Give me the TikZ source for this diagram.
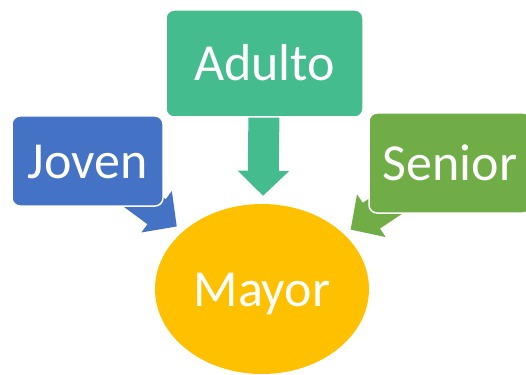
\documentclass[tikz,border=0pt]{standalone}
\usepackage{fontspec}
\setmainfont{Carlito}
\usetikzlibrary{arrows.meta}
\usetikzlibrary{shapes.geometric}
\usetikzlibrary{backgrounds}
\definecolor{jovencol}{HTML}{4472C4}
\definecolor{adultocol}{HTML}{44BC8D}
\definecolor{seniorcol}{HTML}{70AD47}
\definecolor{mayorcol}{HTML}{FFC000}

\begin{document}
\begin{tikzpicture}[x=1pt,y=-1pt,
  label text/.style={text=white,font=\fontsize{52}{60}\selectfont,text height=34pt,text depth=0pt},
  box/.style={rectangle,rounded corners=8pt,draw=white,line width=1.5pt,inner sep=0pt,label text},
  flow/.style={line width=31pt,-{Triangle[length=25pt,width=50pt]},shorten >=8pt}]

  \useasboundingbox (0,0) rectangle (526,374);

  % Stages
  \node[box,fill=adultocol,minimum width=197pt,minimum height=107pt] (adulto) at (264.5,63.5) {Adulto};
  \node[box,fill=jovencol,minimum width=151pt,minimum height=90pt] (joven) at (87.5,161) {Joven};
  \node[box,fill=seniorcol,minimum width=162pt,minimum height=100pt] (senior) at (450,163) {Senior};
  \node[ellipse,fill=mayorcol,minimum width=214pt,minimum height=170pt,inner sep=0pt,label text] (mayor) at (262,289) {Mayor};

  % Arrows behind the boxes
  \begin{scope}[on background layer]
    \draw[flow,draw=jovencol] (joven.center) -- (mayor);
    \draw[flow,draw=adultocol] (adulto.center) -- (mayor);
    \draw[flow,draw=seniorcol] (senior.center) -- (mayor);
  \end{scope}

\end{tikzpicture}
\end{document}
